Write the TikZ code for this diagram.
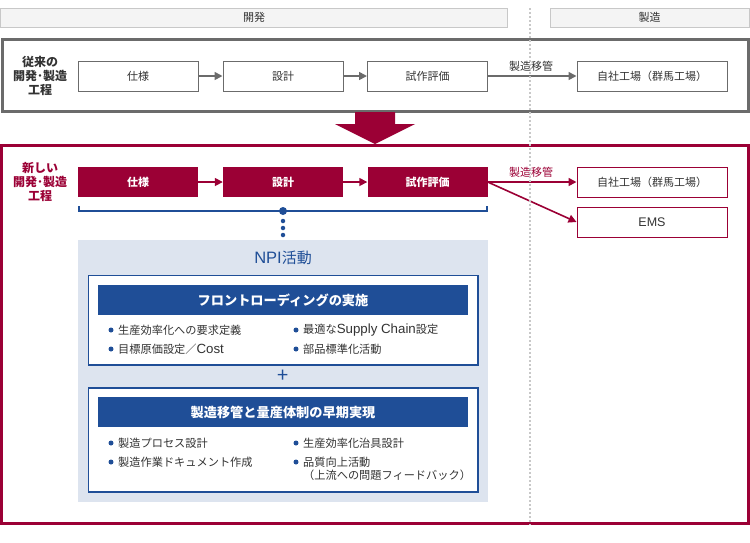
\documentclass[tikz,border=0pt]{standalone}
\usepackage{fontspec}
\setmainfont{Noto Sans CJK JP}
\newfontfamily\latf{Liberation Sans}
\newcommand{\lat}[2]{{\fontsize{#1}{#1}\selectfont\latf #2}}
\usetikzlibrary{arrows.meta}
\definecolor{txt}{HTML}{333333}
\definecolor{npired}{HTML}{9B0035}
\definecolor{npiblue}{HTML}{1F4E97}
\definecolor{npibg}{HTML}{DDE4EF}
\definecolor{grayline}{HTML}{6B6B6B}
\definecolor{hdrline}{HTML}{C8C8C8}
\definecolor{hdrfill}{HTML}{F4F4F4}
\newcommand{\fs}[1]{\fontsize{#1}{#1}\selectfont}
\tikzset{
  hdrbox/.style={draw=hdrline, fill=hdrfill, line width=1pt, minimum height=19pt, inner sep=0pt, font=\fs{11}, text=txt},
  graybox/.style={draw=grayline, fill=white, line width=1pt, minimum width=120pt, minimum height=30pt, inner sep=0pt, font=\fs{11}, text=txt},
  redbox/.style={fill=npired, minimum width=120pt, minimum height=30pt, inner sep=0pt, font=\fs{11}\bfseries, text=white},
  redout/.style={draw=npired, fill=white, line width=1pt, minimum width=150pt, minimum height=30pt, inner sep=0pt, font=\fs{11}, text=txt},
  rowlabel/.style={align=center, font=\fontsize{12}{14}\selectfont\bfseries, inner sep=0pt},
  grayarrow/.style={draw=grayline, line width=1.6pt, -{Triangle[length=8pt,width=8pt]}},
  redarrow/.style={draw=npired, line width=1.6pt, -{Triangle[length=8pt,width=8pt]}},
  bar/.style={fill=npiblue, minimum width=370pt, minimum height=30pt, inner sep=0pt, font=\fs{13.2}\bfseries, text=white},
  panel/.style={draw=npiblue, fill=white, line width=1.2pt, minimum width=389.5pt, inner sep=0pt},
  item/.style={anchor=west, inner sep=0pt, font=\fs{11.2}, text=txt},
  dot/.style={circle, fill=npiblue, inner sep=0pt, minimum size=5pt},
}
\begin{document}
\begin{tikzpicture}[x=1pt,y=-1pt]
\useasboundingbox (0,0) rectangle (750,542);
% header
\node[hdrbox, minimum width=507pt] (hdev) at (254,17.5) {開発};
\node[hdrbox, minimum width=199pt] (hmfg) at (649.5,17.5) {製造};
% old process frame
\node[draw=grayline, line width=3pt, minimum width=746pt, minimum height=72pt, inner sep=0pt] (oldframe) at (375,75.5) {};
\node[rowlabel, text=txt] (oldlab) at (40,76) {従来の\\開発･製造\\工程};
\node[graybox] (o1) at (138,76) {仕様};
\node[graybox] (o2) at (283,76) {設計};
\node[graybox] (o3) at (427.5,76) {試作評価};
\node[graybox, minimum width=150pt] (o4) at (652,76) {自社工場（群馬工場）};
\draw[grayarrow] (o1) -- (o2);
\draw[grayarrow] (o2) -- (o3);
\draw[grayarrow] (o3) -- (o4);
\node[font=\fs{11}, text=txt] (olbl) at (531,66) {製造移管};
% big arrow
\fill[npired] (355,112) -- (395,112) -- (395,124) -- (415,124) -- (375,144) -- (335,124) -- (355,124) -- cycle;
% new process frame
\node[draw=npired, line width=3pt, minimum width=747pt, minimum height=378pt, inner sep=0pt] (newframe) at (375,334.5) {};
\node[rowlabel, text=npired] (newlab) at (40,182) {新しい\\開発･製造\\工程};
\node[redbox] (n1) at (138,182) {仕様};
\node[redbox] (n2) at (283,182) {設計};
\node[redbox] (n3) at (427.5,182) {試作評価};
\node[redout] (n4) at (652,182) {自社工場（群馬工場）};
\node[redout] (n5) at (652,222) {\lat{12.5}{EMS}};
\draw[redarrow] (n1) -- (n2);
\draw[redarrow] (n2) -- (n3);
\draw[redarrow] (n3.east) -- (n4.west);
\draw[redarrow] (n3.east) -- (n5.west);
\node[font=\fs{11}, text=npired] (nlbl) at (531,172) {製造移管};
% bracket
\coordinate (bl) at (78.5,206);
\coordinate (br) at (486.5,206);
\draw[npiblue, line width=2pt] (bl) -- (78.5,211) -- (486.5,211) -- (br);
\node[circle, fill=npiblue, inner sep=0pt, minimum size=8pt] (hub) at (283,211) {};
\node[dot, minimum size=4.5pt] (d1) at (283,221) {};
\node[dot, minimum size=4.5pt] (d2) at (283,228) {};
\node[dot, minimum size=4.5pt] (d3) at (283,235) {};
% NPI area
\fill[npibg] (78,240) rectangle (488,502);
\node[font=\fs{15}, text=npiblue] (npititle) at (283,258) {\lat{16.5}{NPI}活動};
\node[panel, minimum height=89.5pt] (p1) at (283.25,320.25) {};
\node[bar] (b1) at (283,300) {フロントローディングの実施};
\node[dot] (p1a) at (111,330) {}; \node[item] (t1a) at (118,330) {生産効率化への要求定義};
\node[dot] (p1b) at (111,349) {}; \node[item] (t1b) at (118,349) {目標原価設定／\lat{13.3}{Cost}};
\node[dot] (p1c) at (296,330) {}; \node[item] (t1c) at (303,330) {最適な\lat{13.3}{Supply Chain}設定};
\node[dot] (p1d) at (296,349) {}; \node[item] (t1d) at (303,349) {部品標準化活動};
\node[font=\fs{20}, text=npiblue] (plus) at (283,376.5) {+};
\node[panel, minimum height=104pt] (p2) at (283.25,440) {};
\node[bar] (b2) at (283,412) {製造移管と量産体制の早期実現};
\node[dot] (p2a) at (111,443) {}; \node[item] (t2a) at (118,443) {製造プロセス設計};
\node[dot] (p2b) at (111,462) {}; \node[item] (t2b) at (118,462) {製造作業ドキュメント作成};
\node[dot] (p2c) at (296,443) {}; \node[item] (t2c) at (303,443) {生産効率化治具設計};
\node[dot] (p2d) at (296,462) {}; \node[item] (t2d) at (303,462) {品質向上活動};
\node[item] (t2e) at (303,475) {（上流への問題フィードバック）};
% divider
\draw[hdrline, line width=2pt, dash pattern=on 2pt off 2pt] (530,8) -- (530,525);
\end{tikzpicture}
\end{document}
